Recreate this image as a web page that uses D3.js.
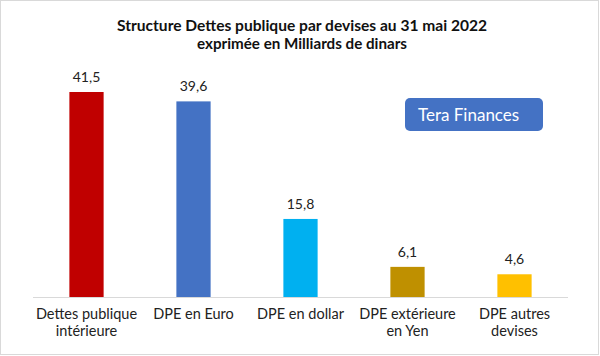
<!DOCTYPE html>
<html><head><meta charset="utf-8">
<script src="https://cdn.jsdelivr.net/npm/d3@7"></script>
<style>body{margin:0;background:#fff}svg{display:block}text{font-family:Lato,"Open Sans",sans-serif}</style>
</head><body>
<svg id="c" width="600" height="356"></svg>
<script>
const categories = [["Dettes publique","intérieure"],["DPE en Euro"],["DPE en dollar"],["DPE extérieure","en Yen"],["DPE autres","devises"]];
const values = [41.5, 39.6, 15.8, 6.1, 4.6];
const labels = ["41,5","39,6","15,8","6,1","4,6"];
const colors = ["#C00000","#4472C4","#00B0F0","#BF9000","#FFC000"];
const titleLines = ["Structure Dettes publique par devises au 31 mai 2022","exprimée en Milliards de dinars"];

const svg = d3.select("#c");
svg.append("rect").attr("x",0.5).attr("y",0.5).attr("width",598).attr("height",354)
  .attr("fill","#fff").attr("stroke","#d9d9d9");

const x = d3.scaleBand().domain(d3.range(values.length)).range([33,568]).paddingInner(0.68).paddingOuter(0.34);
const y = d3.scaleLinear().domain([0,41.5]).range([297,92]);

svg.selectAll("rect.bar").data(values).enter().append("rect").attr("class","bar")
  .attr("x",(d,i)=>x(i)).attr("width",x.bandwidth())
  .attr("y",d=>y(d)).attr("height",d=>y(0)-y(d)).attr("fill",(d,i)=>colors[i]);

svg.append("line").attr("x1",33).attr("x2",568).attr("y1",297.5).attr("y2",297.5)
  .attr("stroke","#d9d9d9").attr("stroke-width",1);

svg.selectAll("text.val").data(values).enter().append("text").attr("class","val")
  .attr("x",(d,i)=>x(i)+x.bandwidth()/2).attr("y",d=>y(d)-10)
  .attr("text-anchor","middle").attr("font-size",14).attr("fill","#222")
  .text((d,i)=>labels[i]);

categories.forEach((lines,i)=>{
  const t = svg.append("text").attr("text-anchor","middle").attr("font-size",14.5).attr("fill","#222");
  lines.forEach((l,j)=>t.append("tspan").attr("x",x(i)+x.bandwidth()/2).attr("y",319+j*16.5).text(l));
});

svg.append("text").attr("x",302).attr("y",31).attr("text-anchor","middle")
  .attr("font-size",15).attr("font-weight","bold").attr("fill","#111")
  .attr("textLength",370).attr("lengthAdjust","spacingAndGlyphs").text(titleLines[0]);
svg.append("text").attr("x",302).attr("y",49).attr("text-anchor","middle")
  .attr("font-size",15).attr("font-weight","bold").attr("fill","#111")
  .attr("textLength",210).attr("lengthAdjust","spacingAndGlyphs").text(titleLines[1]);

svg.append("rect").attr("x",405).attr("y",98).attr("width",138).attr("height",33).attr("rx",5)
  .attr("fill","#4472C4");
svg.append("text").attr("x",418).attr("y",121).attr("font-size",17).attr("fill","#fff").text("Tera Finances");
</script>
</body></html>
